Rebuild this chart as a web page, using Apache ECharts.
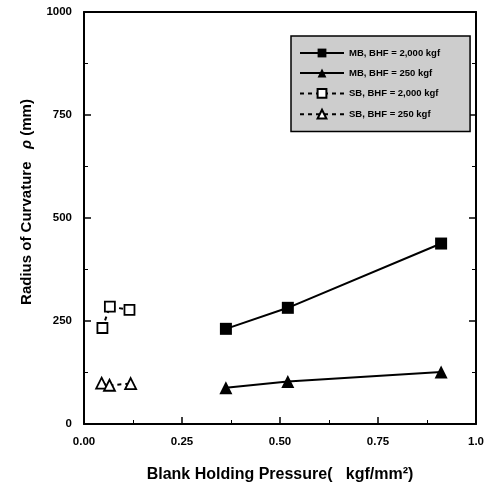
<!DOCTYPE html>
<html><head><meta charset="utf-8">
<script src="https://cdn.jsdelivr.net/npm/echarts@6/dist/echarts.min.js"></script>
<style>html,body{margin:0;padding:0;background:#fff}#c{width:496px;height:491px}</style>
</head><body><div id="c"></div>
<script>
const xTicks = ['0.00', '0.25', '0.50', '0.75', '1.0'];
const yTicks = ['0', '250', '500', '750', '1000'];
const seriesNames = ['MB, BHF = 2,000 kgf', 'MB, BHF = 250 kgf', 'SB, BHF = 2,000 kgf', 'SB, BHF = 250 kgf'];
const mb2000X = [0.362, 0.520, 0.911];
const mb2000Y = [231, 282, 438];
const mb250X = [0.362, 0.520, 0.911];
const mb250Y = [88, 103, 126];
const sb2000X = [0.047, 0.066, 0.116];
const sb2000Y = [233, 285, 277];
const sb250X = [0.045, 0.065, 0.119];
const sb250Y = [99, 94, 98];

const pairs = (xs, ys) => xs.map((x, i) => [x, ys[i]]);
const font = 'Arial, "Liberation Sans", sans-serif';
const chart = echarts.init(document.getElementById('c'), null, {renderer: 'canvas'});
const axisLine = {show: true, onZero: false, lineStyle: {color: '#000', width: 2}};
const tick = {show: true, inside: true, length: 7, lineStyle: {color: '#000', width: 1.5}};
const minor = {show: true, splitNumber: 2, length: 4, lineStyle: {color: '#000', width: 1}};
chart.setOption({
  animation: false,
  grid: {left: 84, right: 20, top: 12, bottom: 67},
  legend: {
    orient: 'vertical', left: 291, top: 36, width: 181,
    padding: [12, 30, 12, 8], itemGap: 10, itemWidth: 44, itemHeight: 11,
    backgroundColor: '#cdcdcd', borderColor: '#000', borderWidth: 1.5,
    textStyle: {fontFamily: font, fontSize: 9.5, fontWeight: 'bold', color: '#000'},
    data: seriesNames
  },
  xAxis: [{
    type: 'value', min: 0, max: 1, interval: 0.25,
    name: 'Blank Holding Pressure(   kgf/mm²)', nameLocation: 'middle', nameGap: 43,
    nameTextStyle: {fontFamily: font, fontSize: 16, fontWeight: 'bold', color: '#000'},
    axisLine: axisLine, axisTick: tick, minorTick: minor, splitLine: {show: false},
    axisLabel: {margin: 12, fontFamily: font, fontSize: 11.5, fontWeight: 'bold', color: '#000',
      formatter: v => xTicks[Math.round(v / 0.25)]}
  }, {
    type: 'value', min: 0, max: 1, interval: 0.25, position: 'top',
    axisLine: axisLine, axisTick: {show: false}, axisLabel: {show: false}, splitLine: {show: false}
  }],
  yAxis: [{
    type: 'value', min: 0, max: 1000, interval: 250, position: 'left',
    name: 'Radius of Curvature   {i|ρ} (mm)', nameLocation: 'middle', nameGap: 50,
    nameTextStyle: {fontFamily: font, fontSize: 15, fontWeight: 'bold', color: '#000', padding: [0, 0, 0, 32],
      rich: {i: {fontFamily: font, fontSize: 15, fontStyle: 'italic', color: '#000'}}},
    axisLine: axisLine, axisTick: tick, minorTick: minor, splitLine: {show: false},
    axisLabel: {margin: 12, fontFamily: font, fontSize: 11.5, fontWeight: 'bold', color: '#000',
      formatter: v => yTicks[Math.round(v / 250)]}
  }, {
    type: 'value', min: 0, max: 1000, interval: 250, position: 'right',
    axisLine: axisLine, axisTick: tick, minorTick: minor, axisLabel: {show: false}, splitLine: {show: false}
  }],
  series: [
    {name: seriesNames[0], type: 'line', data: pairs(mb2000X, mb2000Y), symbol: 'rect', symbolSize: 12,
      itemStyle: {color: '#000'}, lineStyle: {color: '#000', width: 2}},
    {name: seriesNames[1], type: 'line', data: pairs(mb250X, mb250Y), symbol: 'triangle', symbolSize: 13,
      itemStyle: {color: '#000'}, lineStyle: {color: '#000', width: 2}},
    {name: seriesNames[2], type: 'line', data: pairs(sb2000X, sb2000Y), symbol: 'rect', symbolSize: 10,
      showAllSymbol: true,
      itemStyle: {color: '#fff', borderColor: '#000', borderWidth: 1.8}, lineStyle: {color: '#000', width: 2, type: [4, 4]}},
    {name: seriesNames[3], type: 'line', data: pairs(sb250X, sb250Y), symbol: 'triangle', symbolSize: 11,
      showAllSymbol: true,
      itemStyle: {color: '#fff', borderColor: '#000', borderWidth: 1.8}, lineStyle: {color: '#000', width: 2, type: [4, 4]}}
  ]
});
</script></body></html>
